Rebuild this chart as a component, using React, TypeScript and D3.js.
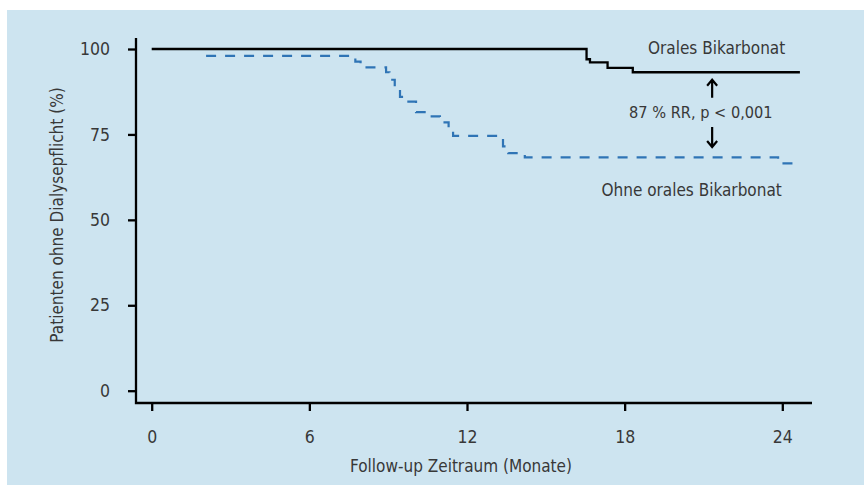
import { useEffect, useRef } from 'react'
import * as d3 from 'd3'

// Kaplan-Meier steps (months, % without dialysis)
const bicarbTimes = [0, 16.55, 16.68, 17.35, 18.31, 24.67]
const bicarbValues = [100, 97.0, 96.1, 94.5, 93.2, 93.2]

const controlTimes = [2.07, 7.75, 7.95, 8.92, 9.05, 9.25, 9.45, 9.6, 10.06, 10.5, 10.97, 11.3, 11.47, 13.37, 13.57, 14.2, 23.84, 24.6]
const controlValues = [98, 96.3, 94.6, 93.2, 91, 88.5, 86, 84.6, 81.5, 80.3, 78.5, 76.5, 74.6, 71.5, 69.5, 68.3, 66.5, 66.5]

const xTicks = [0, 6, 12, 18, 24]
const yTicks = [0, 25, 50, 75, 100]

const labelBicarb = 'Orales Bikarbonat'
const labelControl = 'Ohne orales Bikarbonat'
const labelStats = '87 % RR, p < 0,001'
const xTitle = 'Follow-up Zeitraum (Monate)'
const yTitle = 'Patienten ohne Dialysepflicht (%)'

const FONT = "'Liberation Sans Narrow', 'DejaVu Sans Condensed', 'Roboto Condensed', sans-serif"
const TEXT = '#383838'

type Pt = { t: number; v: number }

export default function App() {
  const svgRef = useRef<SVGSVGElement>(null)

  useEffect(() => {
    if (!svgRef.current) return
    const svg = d3.select(svgRef.current)
    svg.selectAll('*').remove()

    const width = 864
    const height = 485

    svg.append('rect')
      .attr('x', 7).attr('y', 10)
      .attr('width', width - 7).attr('height', height - 10)
      .attr('fill', '#cde4f0')

    const x = d3.scaleLinear().domain([0, 24]).range([151.7, 782.3])
    const y = d3.scaleLinear().domain([0, 100]).range([390.7, 49])

    const axisX = 136
    const axisY = 403

    // axis lines
    svg.append('path')
      .attr('d', `M${axisX},38V${axisY}H812`)
      .attr('fill', 'none')
      .attr('stroke', '#000')
      .attr('stroke-width', 2.3)

    const gy = svg.append('g')
      .attr('transform', `translate(${axisX},0)`)
      .call(d3.axisLeft(y).tickValues(yTicks).tickSize(8).tickPadding(18))
    gy.select('.domain').remove()
    gy.selectAll('line').attr('stroke', '#000').attr('stroke-width', 2.3)
    gy.selectAll('text')
      .attr('fill', TEXT)
      .style('font-family', FONT)
      .style('font-size', '17.5px')

    const gx = svg.append('g')
      .attr('transform', `translate(0,${axisY})`)
      .call(d3.axisBottom(x).tickValues(xTicks).tickSize(8).tickPadding(20))
    gx.select('.domain').remove()
    gx.selectAll('line').attr('stroke', '#000').attr('stroke-width', 2.3)
    gx.selectAll('text')
      .attr('fill', TEXT)
      .style('font-family', FONT)
      .style('font-size', '17.5px')

    svg.append('text')
      .attr('x', x(12) - 6)
      .attr('y', 472)
      .attr('text-anchor', 'middle')
      .attr('fill', TEXT)
      .style('font-family', FONT)
      .style('font-size', '17px')
      .text(xTitle)

    svg.append('text')
      .attr('transform', `translate(63,215) rotate(-90)`)
      .attr('text-anchor', 'middle')
      .attr('fill', TEXT)
      .style('font-family', FONT)
      .style('font-size', '17px')
      .text(yTitle)

    const line = d3.line<Pt>()
      .x(d => x(d.t))
      .y(d => y(d.v))
      .curve(d3.curveStepAfter)

    const bicarb: Pt[] = bicarbTimes.map((t, i) => ({ t, v: bicarbValues[i] }))
    const control: Pt[] = controlTimes.map((t, i) => ({ t, v: controlValues[i] }))

    svg.append('path')
      .datum(control)
      .attr('fill', 'none')
      .attr('stroke', '#2f74b5')
      .attr('stroke-width', 2.2)
      .attr('stroke-dasharray', '10,9')
      .attr('d', line)

    svg.append('path')
      .datum(bicarb)
      .attr('fill', 'none')
      .attr('stroke', '#000')
      .attr('stroke-width', 2.3)
      .attr('d', line)

    // annotations
    const ann = svg.append('g')
      .attr('fill', TEXT)
      .style('font-family', FONT)
      .style('font-size', '17px')
      .attr('text-anchor', 'middle')

    ann.append('text').attr('x', x(21.5)).attr('y', y(98.4)).text(labelBicarb)
    ann.append('text').attr('x', x(20.9)).attr('y', y(81.6)).attr('dy', '0.35em')
      .style('font-size', '16.2px').text(labelStats)
    ann.append('text').attr('x', x(20.55)).attr('y', y(57.0)).text(labelControl)

    const ax = x(21.33)
    const arrows = [
      { from: 85.7, to: 91.0 },
      { from: 77.2, to: 71.3 },
    ]
    arrows.forEach(a => {
      const y0 = y(a.from)
      const y1 = y(a.to)
      const dir = y1 < y0 ? 1 : -1
      svg.append('path')
        .attr('d', `M${ax},${y0}V${y1}M${ax - 5},${y1 + dir * 6}L${ax},${y1}L${ax + 5},${y1 + dir * 6}`)
        .attr('fill', 'none')
        .attr('stroke', '#000')
        .attr('stroke-width', 2.2)
    })
  }, [])

  return (
    <div style={{ position: 'absolute', left: 0, top: 0 }}>
      <svg ref={svgRef} width={864} height={485} style={{ display: 'block' }} />
    </div>
  )
}
